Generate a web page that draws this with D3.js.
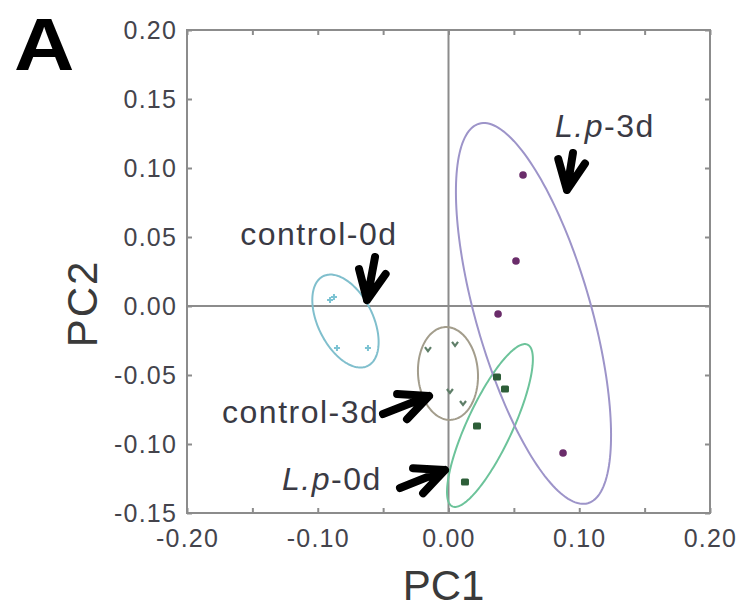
<!DOCTYPE html>
<html>
<head>
<meta charset="utf-8">
<script src="https://cdn.jsdelivr.net/npm/d3@7"></script>
<style>
  html, body { margin: 0; padding: 0; background: #fff; }
  svg { display: block; }
  text { font-family: Arial, "Liberation Sans", sans-serif; }
</style>
</head>
<body>
<svg id="chart" width="747" height="610"></svg>
<script>
// ---------- data ----------
const groups = ["control-0d", "control-3d", "L.p-0d", "L.p-3d"];
const groupColors = ["#7cc3d3", "#5e7e68", "#2d5e38", "#6a2c6a"];
const ellipseColors = ["#80bfcd", "#a39d8c", "#6cc39a", "#9d94c9"];

// PC1 / PC2 scores per group
const pc1Control0d = [-0.0906, -0.0876, -0.0853, -0.0616];
const pc2Control0d = [0.0043, 0.0065, -0.0304, -0.0304];
const pc1Control3d = [-0.0157, 0.0050, 0.0011, 0.0111];
const pc2Control3d = [-0.0312, -0.0275, -0.0616, -0.0703];
const pc1Lp0d = [0.0371, 0.0432, 0.0218, 0.0126];
const pc2Lp0d = [-0.0514, -0.0601, -0.0870, -0.1275];
const pc1Lp3d = [0.0570, 0.0516, 0.0379, 0.0876];
const pc2Lp3d = [0.0949, 0.0326, -0.0058, -0.1065];

// confidence ellipses (data units): centre, major semi-axis vector, minor semi-axis length
const ellipseCenterX = [-0.0788, -0.0004, 0.0317, 0.0650];
const ellipseCenterY = [-0.0109, -0.0489, -0.0866, -0.0054];
const ellipseMajorX = [0.0170, 0.0023, -0.0288, 0.0416];
const ellipseMajorY = [-0.0325, -0.0336, -0.0586, -0.1375];
const ellipseMinor = [0.0210, 0.0229, 0.0174, 0.0440];

// annotation arrows (data units): tail -> tip
const arrowTailX = [-0.0562, -0.0501, -0.0371, 0.0952];
const arrowTailY = [0.0355, -0.0783, -0.1319, 0.1109];
const arrowTipX = [-0.0623, -0.0149, -0.0027, 0.0906];
const arrowTipY = [0.0043, -0.0652, -0.1188, 0.0841];

// group label anchors (data units, start of text / baseline)
const labelX = [-0.1593, -0.1732, -0.1273, 0.0815];
const labelY = [0.0442, -0.0848, -0.1333, 0.1225];

// axes
const xTickLabels = [-0.20, -0.10, 0.00, 0.10, 0.20];
const yTickLabels = [0.20, 0.15, 0.10, 0.05, 0.00, -0.05, -0.10, -0.15];
const xMinorTicks = [-0.20, -0.15, -0.10, -0.05, 0.00, 0.05, 0.10, 0.15, 0.20];
const xAxisTitle = "PC1";
const yAxisTitle = "PC2";
const panelLetter = "A";

// ---------- drawing ----------
const svg = d3.select("#chart");
const plotL = 187, plotR = 710, plotT = 30, plotB = 513;
const x = d3.scaleLinear().domain([-0.2, 0.2]).range([plotL, plotR]);
const y = d3.scaleLinear().domain([-0.15, 0.2]).range([plotB, plotT]);
const f2 = d3.format(".2f");
const fmt = d => f2(d).replace("\u2212", "-");
const axisColor = "#8c8c8c";
const labelColor = "#3a3a44";

// axes
const gBottom = svg.append("g").attr("transform", `translate(0,${plotB})`)
  .call(d3.axisBottom(x).tickValues(xMinorTicks).tickSizeInner(-5).tickSizeOuter(0).tickPadding(16)
    .tickFormat(d => xTickLabels.some(v => Math.abs(v - d) < 1e-9) ? fmt(d) : ""));
const gTop = svg.append("g").attr("transform", `translate(0,${plotT})`)
  .call(d3.axisTop(x).tickValues(xMinorTicks).tickSizeInner(-5).tickSizeOuter(0).tickFormat(""));
const gLeft = svg.append("g").attr("transform", `translate(${plotL},0)`)
  .call(d3.axisLeft(y).tickValues(yTickLabels).tickSizeInner(-5).tickSizeOuter(0).tickPadding(10)
    .tickFormat(fmt));
const gRight = svg.append("g").attr("transform", `translate(${plotR},0)`)
  .call(d3.axisRight(y).tickValues(yTickLabels).tickSizeInner(-5).tickSizeOuter(0).tickFormat(""));

[gBottom, gTop, gLeft, gRight].forEach(g => {
  g.select(".domain").remove();
  g.selectAll(".tick line").attr("stroke", axisColor).attr("stroke-width", 2);
  g.selectAll(".tick text")
    .attr("fill", "#44444c")
    .attr("font-size", 25)
    .attr("letter-spacing", 1.2);
});
gBottom.selectAll(".tick text").attr("dy", "0.72em");

// zero lines
svg.append("line").attr("x1", x(0)).attr("x2", x(0)).attr("y1", plotT).attr("y2", plotB)
  .attr("stroke", axisColor).attr("stroke-width", 2);
svg.append("line").attr("x1", plotL).attr("x2", plotR).attr("y1", y(0)).attr("y2", y(0))
  .attr("stroke", axisColor).attr("stroke-width", 2);

// frame
svg.append("rect").attr("x", plotL).attr("y", plotT)
  .attr("width", plotR - plotL).attr("height", plotB - plotT)
  .attr("fill", "none").attr("stroke", axisColor).attr("stroke-width", 2);

// ellipses
const line = d3.line().curve(d3.curveLinearClosed);
groups.forEach((g, i) => {
  const cx = x(ellipseCenterX[i]), cy = y(ellipseCenterY[i]);
  const ux = x(ellipseCenterX[i] + ellipseMajorX[i]) - cx;
  const uy = y(ellipseCenterY[i] + ellipseMajorY[i]) - cy;
  const ul = Math.hypot(ux, uy);
  const b = x(ellipseMinor[i]) - x(0);
  const vx = -uy / ul * b, vy = ux / ul * b;
  const pts = d3.range(0, 2 * Math.PI, Math.PI / 90).map(t =>
    [cx + ux * Math.cos(t) + vx * Math.sin(t), cy + uy * Math.cos(t) + vy * Math.sin(t)]);
  svg.append("path").attr("d", line(pts))
    .attr("fill", "none").attr("stroke", ellipseColors[i]).attr("stroke-width", 2);
});

// points
const pcs = [
  [pc1Control0d, pc2Control0d],
  [pc1Control3d, pc2Control3d],
  [pc1Lp0d, pc2Lp0d],
  [pc1Lp3d, pc2Lp3d]
];
pcs.forEach(([xs, ys], i) => {
  const pts = xs.map((v, k) => [v, ys[k]]);
  const sel = svg.append("g").selectAll("g").data(pts).join("g")
    .attr("transform", d => `translate(${x(d[0])},${y(d[1])})`);
  if (i === 0) {
    sel.append("path").attr("d", "M-3,0H3M0,-3V3")
      .attr("stroke", groupColors[i]).attr("stroke-width", 2);
  } else if (i === 1) {
    sel.append("path").attr("d", "M-3,-2L0,2L3,-2")
      .attr("fill", "none").attr("stroke", groupColors[i]).attr("stroke-width", 2.2);
  } else if (i === 2) {
    sel.append("rect").attr("x", -4).attr("y", -3.5).attr("width", 8).attr("height", 7)
      .attr("rx", 1.5).attr("fill", groupColors[i]);
  } else {
    sel.append("circle").attr("r", 3.8).attr("fill", groupColors[i]);
  }
});

// arrows
groups.forEach((g, i) => {
  const tx = x(arrowTipX[i]), ty = y(arrowTipY[i]);
  const sx = x(arrowTailX[i]), sy = y(arrowTailY[i]);
  const ang = Math.atan2(sy - ty, sx - tx);
  const len = 32, spread = 25 * Math.PI / 180;
  const a1 = [tx + len * Math.cos(ang - spread), ty + len * Math.sin(ang - spread)];
  const a2 = [tx + len * Math.cos(ang + spread), ty + len * Math.sin(ang + spread)];
  svg.append("path")
    .attr("d", `M${sx},${sy}L${tx},${ty}M${a1[0]},${a1[1]}L${tx},${ty}L${a2[0]},${a2[1]}`)
    .attr("fill", "none").attr("stroke", "#000").attr("stroke-width", 8)
    .attr("stroke-linecap", "round").attr("stroke-linejoin", "round");
});

// group labels
groups.forEach((g, i) => {
  const t = svg.append("text").attr("x", x(labelX[i])).attr("y", y(labelY[i]))
    .attr("font-size", 32).attr("letter-spacing", 1.5).attr("fill", labelColor);
  if (g.startsWith("L.p")) {
    t.append("tspan").attr("font-style", "italic").text("L.p");
    t.append("tspan").text(g.slice(3));
  } else {
    t.text(g);
  }
});

// axis titles
svg.append("text").attr("x", (plotL + plotR) / 2 - 5).attr("y", 600)
  .attr("text-anchor", "middle").attr("font-size", 42).attr("fill", "#3a3a3a").text(xAxisTitle);
svg.append("text").attr("transform", `translate(97,${(plotT + plotB) / 2 + 32}) rotate(-90)`)
  .attr("text-anchor", "middle").attr("font-size", 42).attr("letter-spacing", 2)
  .attr("fill", "#3a3a3a").text(yAxisTitle);

// panel letter
svg.append("text").attr("transform", "translate(14,70) scale(1.13,1)")
  .attr("font-size", 74).attr("font-weight", "bold").attr("fill", "#000").text(panelLetter);
</script>
</body>
</html>
